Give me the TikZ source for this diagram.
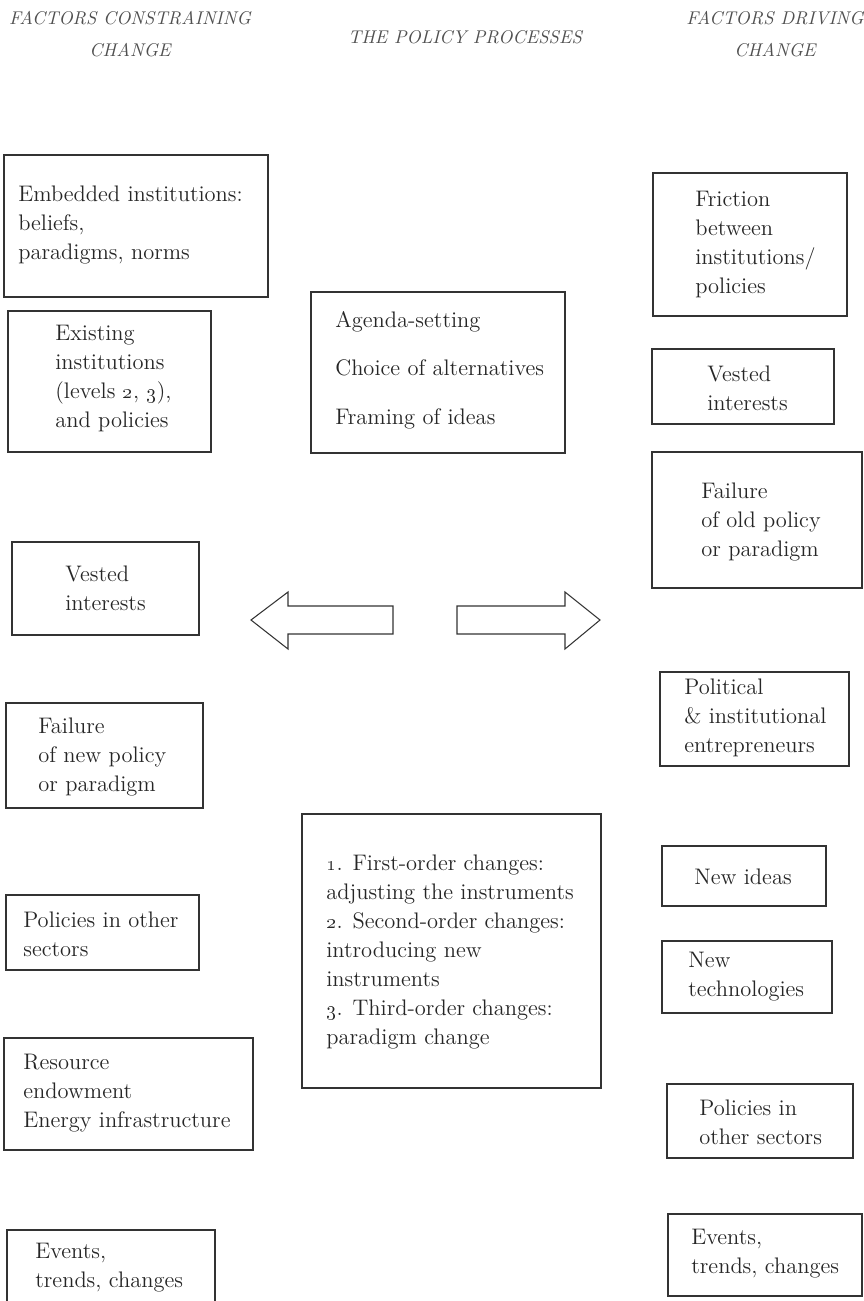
\documentclass[tikz,border=0pt]{standalone}
\usepackage{tikz}
\usetikzlibrary{positioning, fit}
\definecolor{linegray}{HTML}{333333}
\definecolor{headgray}{HTML}{505050}
\tikzset{
    box/.style={draw=linegray, line width=0.6pt, inner sep=0pt},
    lbl/.style={anchor=west, align=left, inner sep=0pt, text=black!85,
        font=\fontsize{12.8}{16.5}\selectfont},
    head/.style={align=center, inner sep=0pt, text=headgray,
        font=\fontsize{10.5}{18.2}\selectfont\itshape},
    blockarrow/.style={draw=linegray, line width=0.6pt, line join=miter}
}

\begin{document}
\begin{tikzpicture}[x=0.02cm, y=-0.02cm]
    \useasboundingbox (0,0) rectangle (863,1301);

    \node[head]	(hL)	at	(130,34)	{FACTORS CONSTRAINING\\CHANGE};
    \node[head]	(hC)	at	(465,37)	{THE POLICY PROCESSES};
    \node[head]	(hR)	at	(775,34)	{FACTORS DRIVING\\CHANGE};

    \node[box, fit={(4,155) (268,297)}]	(emb)	{};
    \node[lbl]	(embT)	at	(18,225)	{Embedded institutions:\\beliefs,\\paradigms, norms};
    \node[box, fit={(8,311) (211,452)}]	(exist)	{};
    \node[lbl]	(existT)	at	(55,379)	{Existing\\institutions\\(levels \oldstylenums{2}, \oldstylenums{3}),\\and policies};
    \node[box, fit={(12,542) (199,635)}]	(vestL)	{};
    \node[lbl]	(vestLT)	at	(65,588)	{Vested\\interests};
    \node[box, fit={(6,703) (203,808)}]	(failN)	{};
    \node[lbl]	(failNT)	at	(38,757)	{Failure\\of new policy\\or paradigm};
    \node[box, fit={(6,895) (199,970)}]	(polL)	{};
    \node[lbl]	(polLT)	at	(23,934)	{Policies in other\\sectors};
    \node[box, fit={(4,1038) (253,1150)}]	(res)	{};
    \node[lbl]	(resT)	at	(23,1093)	{Resource\\endowment\\Energy infrastructure};
    \node[box, fit={(7,1230) (215,1320)}]	(evL)	{};
    \node[lbl]	(evLT)	at	(35,1268)	{Events,\\trends, changes};

    \node[box, fit={(311,292) (565,453)}]	(agenda)	{};
    \node[lbl]	(agendaT)	at	(335,370)	{Agenda-setting\\[11pt]Choice of alternatives\\[11pt]Framing of ideas};
    \draw[blockarrow]	(393,606) -- (288,606) -- (288,592) -- (251,620) -- (288,649) -- (288,634) -- (393,634) -- cycle;
    \draw[blockarrow]	(457,606) -- (565,606) -- (565,592) -- (600,620) -- (565,649) -- (565,634) -- (457,634) -- cycle;
    \node[box, fit={(302,814) (601,1088)}]	(orders)	{};
    \node[lbl]	(ordersT)	at	(326,952)	{\oldstylenums{1}. First-order changes:\\adjusting the instruments\\\oldstylenums{2}. Second-order changes:\\introducing new\\instruments\\\oldstylenums{3}. Third-order changes:\\paradigm change};

    \node[box, fit={(653,173) (847,316)}]	(frict)	{};
    \node[lbl]	(frictT)	at	(695,245)	{Friction\\between\\institutions/\\policies};
    \node[box, fit={(652,349) (834,424)}]	(vestR)	{};
    \node[lbl]	(vestRT)	at	(707,388)	{Vested\\interests};
    \node[box, fit={(652,452) (862,588)}]	(failO)	{};
    \node[lbl]	(failOT)	at	(701,522)	{Failure\\of old policy\\or paradigm};
    \node[box, fit={(660,672) (849,766)}]	(polit)	{};
    \node[lbl]	(politT)	at	(684,718)	{Political\\\& institutional\\entrepreneurs};
    \node[box, fit={(662,846) (826,906)}]	(ideas)	{};
    \node[lbl]	(ideasT)	at	(694,877)	{New ideas};
    \node[box, fit={(662,941) (832,1013)}]	(tech)	{};
    \node[lbl]	(techT)	at	(688,977)	{New\\technologies};
    \node[box, fit={(667,1084) (853,1158)}]	(polR)	{};
    \node[lbl]	(polRT)	at	(699,1122)	{Policies in\\other sectors};
    \node[box, fit={(668,1214) (862,1296)}]	(evR)	{};
    \node[lbl]	(evRT)	at	(691,1254)	{Events,\\trends, changes};
\end{tikzpicture}
\end{document}
